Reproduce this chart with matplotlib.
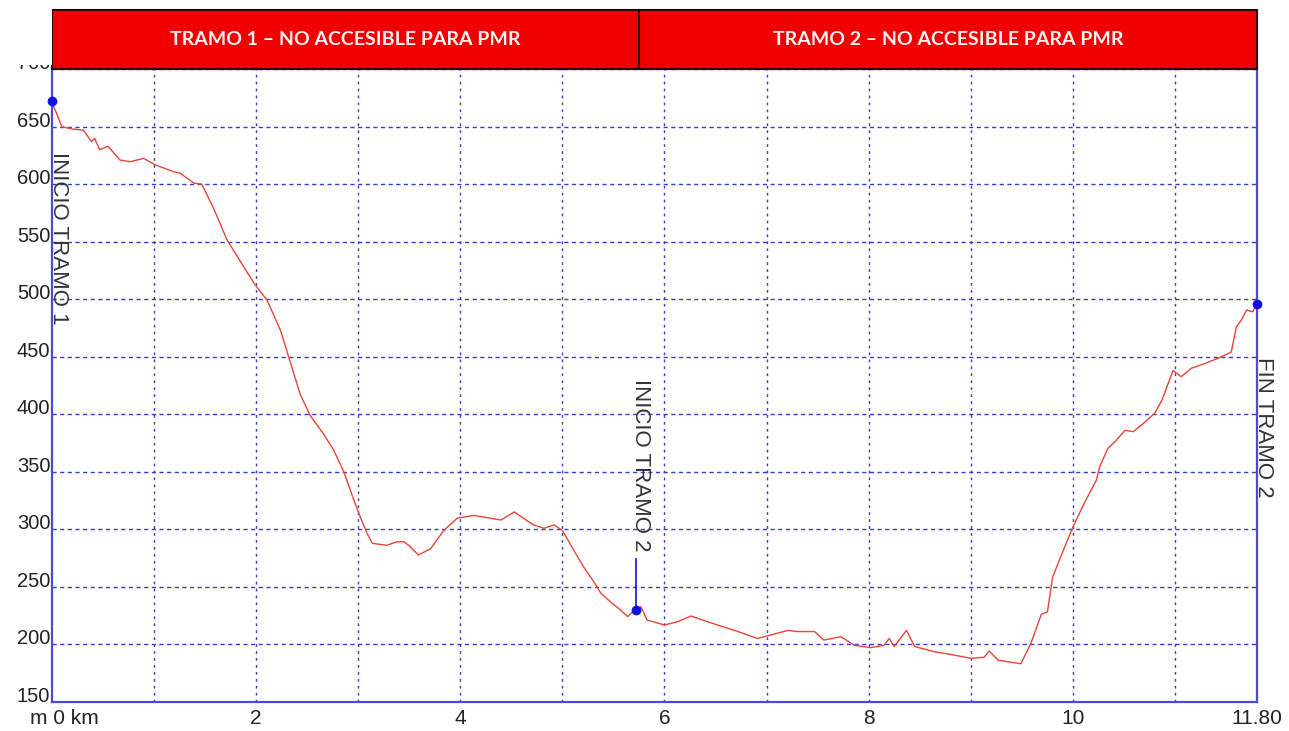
import matplotlib
matplotlib.use("Agg")
import matplotlib.pyplot as plt
from matplotlib.patches import Rectangle
from matplotlib.transforms import blended_transform_factory, ScaledTranslation

# ---- data ----
distance_km = [0.0, 0.1, 0.2, 0.31, 0.39, 0.42, 0.47, 0.55, 0.67, 0.77, 0.9, 1.01, 1.19, 1.26,
               1.39, 1.47, 1.58, 1.72, 1.85, 1.98, 2.11, 2.24, 2.32, 2.40, 2.43, 2.53, 2.66,
               2.76, 2.86, 2.96, 3.02, 3.09, 3.14, 3.28, 3.38, 3.45, 3.51, 3.59, 3.71, 3.84,
               3.97, 4.13, 4.30, 4.40, 4.53, 4.62, 4.72, 4.82, 4.92, 5.0, 5.11, 5.21, 5.31,
               5.38, 5.47, 5.57, 5.64, 5.70, 5.77, 5.83, 6.0, 6.13, 6.26, 6.42, 6.52, 6.72,
               6.91, 7.04, 7.21, 7.30, 7.47, 7.56, 7.73, 7.86, 8.02, 8.15, 8.20, 8.25, 8.37,
               8.45, 8.64, 8.81, 9.00, 9.13, 9.18, 9.27, 9.49, 9.59, 9.69, 9.75, 9.80, 9.88,
               10.0, 10.11, 10.23, 10.26, 10.34, 10.41, 10.51, 10.59, 10.69, 10.80, 10.87,
               10.98, 11.06, 11.16, 11.29, 11.42, 11.55, 11.60, 11.65, 11.70, 11.76, 11.80]
elevation_m = [672, 650, 648, 647, 637, 640, 630, 633, 621, 619.6, 622.5, 617, 611, 609.5,
               601, 600, 580, 551, 532.6, 514, 499, 473, 450, 427, 418, 399, 383,
               369, 350, 325, 311, 296, 287.7, 286, 289, 289, 285, 277.6, 283, 299,
               309.5, 312, 309.5, 308, 315, 309.5, 303.7, 300.8, 303.7, 299, 282, 267, 254,
               244, 237, 229.7, 224, 229, 232.6, 221, 216.7, 219.6, 224.5, 219.6, 216.7, 211,
               205, 208, 212, 211, 211, 203.6, 206.5, 199, 197, 199, 205, 198, 212,
               198, 193.5, 191, 187.7, 188.6, 194, 186, 183, 201, 226, 228, 258, 276,
               302, 322.5, 342.8, 354, 370, 376, 386, 384.8, 392, 400.8, 412,
               438, 432.6, 440, 444, 448.6, 454, 476, 482, 490.6, 489, 496]

marker_km = [0.0, 5.72, 11.80]
marker_m = [672, 229.7, 496]
marker_labels = ["INICIO TRAMO 1", "INICIO TRAMO 2", "FIN TRAMO 2"]

section_bounds_km = [0.0, 5.75, 11.80]
section_titles = ["TRAMO 1 – NO ACCESIBLE PARA PMR", "TRAMO 2 – NO ACCESIBLE PARA PMR"]

x_tick_values = [0, 2, 4, 6, 8, 10, 11.8]
x_tick_labels = ["m 0 km", "2", "4", "6", "8", "10", "11.80"]
y_tick_values = [150, 200, 250, 300, 350, 400, 450, 500, 550, 600, 650, 700]

# ---- figure ----
fig = plt.figure(figsize=(12.89, 7.31), dpi=100)
ax = fig.add_axes([0.0401, 0.0401, 0.9349, 0.8652])
ax.set_xlim(0, 11.8)
ax.set_ylim(150, 700)

blue = "#4a4ad8"
grid_col = "#3b3bd0"
for spine in ["left", "bottom", "right"]:
    ax.spines[spine].set_color(blue)
    ax.spines[spine].set_linewidth(1.6)
ax.spines["top"].set_visible(False)

ax.set_xticks(x_tick_values)
ax.set_xticklabels(x_tick_labels)
ax.set_yticks(y_tick_values)
ax.set_yticklabels([str(v) for v in y_tick_values])
ax.tick_params(axis="both", which="both", length=0)
ax.tick_params(axis="x", pad=5, labelsize=15, labelcolor="#222222")
ax.tick_params(axis="y", pad=1, labelsize=14.5, labelcolor="#222222")
for lab in ax.get_xticklabels() + ax.get_yticklabels():
    lab.set_fontfamily("Liberation Sans")
for lab in ax.get_yticklabels():
    lab.set_va("baseline")
first = ax.get_xticklabels()[0]
first.set_transform(first.get_transform() + ScaledTranslation(13 / 100, 0, fig.dpi_scale_trans))

ax.grid(False)
for gx in range(1, 12):
    ax.axvline(gx, color=grid_col, lw=1.0, dashes=(2, 3), zorder=1)
for gy in y_tick_values[1:]:
    ax.axhline(gy, color=grid_col, lw=1.0, dashes=(3, 2.5), zorder=1)

ax.plot(distance_km, elevation_m, color="#e8443a", lw=1.0, zorder=3)
ax.plot(marker_km, marker_m, "o", color="#1010e0", ms=6, zorder=5, clip_on=False)

# marker labels
txt_kw = dict(rotation=270, rotation_mode="anchor", ha="left", va="baseline",
              fontsize=16, color="#333333", family="Liberation Sans", clip_on=False, zorder=6)
ax.text(0.01, 628, marker_labels[0], **txt_kw)
ax.text(5.71, 431, marker_labels[1], **txt_kw)
ax.plot([5.72, 5.72], [marker_m[1], 274], color="#1010e0", lw=1.2, zorder=4)
ax.text(11.815, 450, marker_labels[2], **txt_kw)

# header boxes
trans = blended_transform_factory(ax.transData, fig.transFigure)
y0, y1 = 0.905, 0.986
# white patch hiding the top of the y axis area
fig.patches.append(Rectangle((0, 0.9105), 0.0401, 0.1, transform=fig.transFigure,
                             facecolor="white", edgecolor="none", zorder=10))
for i, title in enumerate(section_titles):
    a, b = section_bounds_km[i], section_bounds_km[i + 1]
    r = Rectangle((a, y0), b - a, y1 - y0, transform=trans, facecolor="#f00000",
                  edgecolor="#300000", lw=1.5, clip_on=False, zorder=11)
    ax.add_patch(r)
    ax.text((a + b) / 2, (y0 + y1) / 2, title, transform=trans, ha="center", va="center",
            color="#fff2f2", fontsize=14, fontweight="bold", family="Lato",
            zorder=12, clip_on=False)

fig.savefig("out.png", dpi=100)
